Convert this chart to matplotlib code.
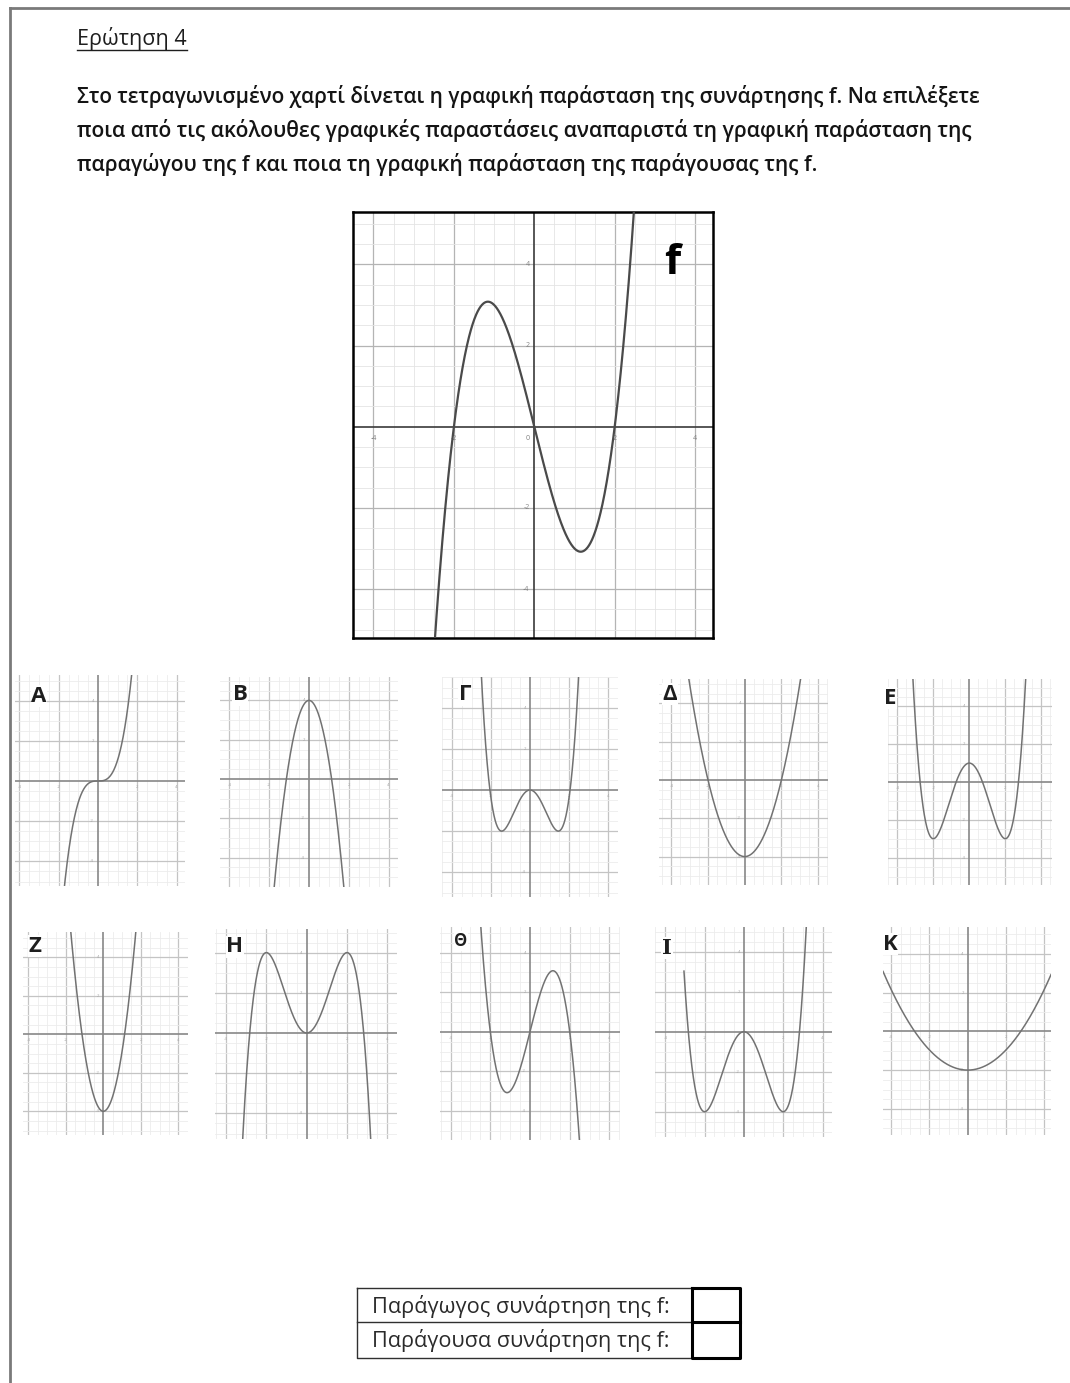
import numpy as np
import matplotlib.pyplot as plt

W, H = 1070, 1383
plt.rcParams['font.family'] = ['Open Sans', 'Noto Sans', 'DejaVu Sans']

# f(x) = x^3 - 4x, coefficients highest power first
F_COEFFS = [1, 0, -4, 0]

PANEL_LABELS = ['A', 'B', 'Γ', 'Δ', 'E', 'Z', 'H', 'Θ', 'I', 'K']
PANEL_COEFFS = [
    [1.05, 0, 0, 0],
    [-3.1, 0, 4],
    [0.45, 0, -1.9, 0, 0],
    [1, 0, -4],
    [0.25, 0, -2, 0, 1],
    [3.1, 0, -4],
    [-0.25, 0, 2, 0, 0],
    [-1, 0, 4, 0],
    [0.25, 0, -2, 0, 0],
    [0.26, 0, -2],
]
# where each curve starts on the left (None: whole window)
PANEL_XSTART = [None, None, None, None, None, None, None, None, -3.05, None]

TICK_VALUES = [-4, -2, 2, 4]

TITLE = 'Ερώτηση 4'
QUESTION_LINES = [
    'Στο τετραγωνισμένο χαρτί δίνεται η γραφική παράσταση της συνάρτησης f. Να επιλέξετε',
    'ποια από τις ακόλουθες γραφικές παραστάσεις αναπαριστά τη γραφική παράσταση της',
    'παραγώγου της f και ποια τη γραφική παράσταση της παράγουσας της f.',
]
TABLE_ROWS = ['Παράγωγος συνάρτηση της f:', 'Παράγουσα συνάρτηση της f:']

# --- layout in page pixels ---
# left, top, right, bottom, origin x, origin y, pixels per 2 units (x, y)
MAIN_BOX = (353, 212, 713, 638, 534.3, 426.7, 80.4, 81.2)
PANEL_BOXES = [
    (15, 675, 185, 886, 98.0, 781.0, 39.3, 40.2),
    (220, 677, 398, 887, 309.0, 779.0, 39.8, 39.3),
    (442, 677, 618, 897, 530.0, 790.0, 39.0, 41.0),
    (659, 679, 828, 885, 744.7, 780.0, 36.7, 38.3),
    (888, 679, 1052, 885, 969.3, 782.0, 36.0, 37.8),
    (23, 932, 188, 1135, 103.3, 1034.3, 37.5, 38.5),
    (215, 929, 397, 1139, 306.7, 1033.0, 40.3, 40.2),
    (440, 927, 620, 1140, 530.0, 1031.7, 39.7, 39.6),
    (655, 927, 832, 1137, 743.9, 1031.7, 39.3, 40.0),
    (883, 927, 1051, 1135, 967.7, 1031.3, 38.3, 38.8),
]
LABEL_POS = [(39, 696), (240, 695), (465, 695), (670, 694), (890, 698),
             (35, 946), (235, 947), (461, 941), (667, 948), (890, 944)]

fig = plt.figure(figsize=(W / 100, H / 100), dpi=100)
fig.patch.set_facecolor('white')


def grid_axes(box, main=False):
    x0, y0, x1, y1, ox, oy, mx, my = box
    ax = fig.add_axes([x0 / W, 1 - y1 / H, (x1 - x0) / W, (y1 - y0) / H])
    sx, sy = mx / 2, my / 2
    xl = ((x0 - ox) / sx, (x1 - ox) / sx)
    yl = ((oy - y1) / sy, (oy - y0) / sy)
    ax.set_xlim(*xl)
    ax.set_ylim(*yl)
    ax.set_xticks([])
    ax.set_yticks([])
    ax.set_facecolor('white')

    minor_c, major_c = ('#e4e4e4', '#b4b4b4') if main else ('#ececec', '#c4c4c4')
    for k in range(int(np.ceil(xl[0] * 2)), int(np.floor(xl[1] * 2)) + 1):
        if k == 0:
            continue
        major = k % 4 == 0
        ax.axvline(k / 2, color=major_c if major else minor_c,
                   lw=0.9 if major else 0.6, zorder=1)
    for k in range(int(np.ceil(yl[0] * 2)), int(np.floor(yl[1] * 2)) + 1):
        if k == 0:
            continue
        major = k % 4 == 0
        ax.axhline(k / 2, color=major_c if major else minor_c,
                   lw=0.9 if major else 0.6, zorder=1)
    axis_c = '#3a3a3a' if main else '#888888'
    ax.axhline(0, color=axis_c, lw=1.2, zorder=2)
    ax.axvline(0, color=axis_c, lw=1.2, zorder=2)

    # tiny scale numbers beside the axes
    fs, tc = (5, '#808080') if main else (3.2, '#a8a8a8')
    dx = 0.12 if main else 0.2
    for v in TICK_VALUES:
        if xl[0] < v < xl[1]:
            ax.text(v, -0.2, str(v), fontsize=fs, color=tc, ha='center', va='top', zorder=3)
        if yl[0] < v < yl[1]:
            ax.text(-dx, v, str(v), fontsize=fs, color=tc, ha='right', va='center', zorder=3)
    if main:
        ax.text(-dx, -0.2, '0', fontsize=fs, color=tc, ha='right', va='top', zorder=3)

    for s in ax.spines.values():
        if main:
            s.set_linewidth(1.8)
            s.set_color('black')
        else:
            s.set_visible(False)
    return ax


# main graph of f
ax_f = grid_axes(MAIN_BOX, main=True)
xs = np.linspace(*ax_f.get_xlim(), 1000)
ax_f.plot(xs, np.polyval(F_COEFFS, xs), color='#4a4a4a', lw=1.6, zorder=4)

# answer choices
for coeffs, x_start, box in zip(PANEL_COEFFS, PANEL_XSTART, PANEL_BOXES):
    ax = grid_axes(box)
    lo, hi = ax.get_xlim()
    if x_start is not None:
        lo = x_start
    xs = np.linspace(lo, hi, 800)
    ax.plot(xs, np.polyval(coeffs, xs), color='#727272', lw=1.1, zorder=4)

# page layer in pixel coordinates, on top of the graphs
page = fig.add_axes([0, 0, 1, 1], zorder=5)
page.set_xlim(0, W)
page.set_ylim(H, 0)
page.axis('off')
page.patch.set_alpha(0)

renderer = fig.canvas.get_renderer()


def fitted_text(x, y, s, width, size, **kw):
    t = page.text(x, y, s, fontsize=size, **kw)
    w = t.get_window_extent(renderer).width
    t.set_fontsize(size * width / w)
    return t


# page frame
page.plot([10, 10], [8, H], color='#7a7a7a', lw=2)
page.plot([10, W], [8, 8], color='#7a7a7a', lw=2)

fitted_text(77, 38, TITLE, 110, 14, ha='left', va='center', color='#1e1e1e')
page.plot([77, 187], [50, 50], color='#1e1e1e', lw=1)

line_y = [97, 130, 165]
line_w = [908, 898, 743]
for s, y, w in zip(QUESTION_LINES, line_y, line_w):
    fitted_text(77, y, s, w, 14, ha='left', va='center', color='#141414', weight='semibold')

page.text(672, 263, 'f', fontsize=30, weight='bold', ha='center', va='center', color='black')

for lab, (x, y) in zip(PANEL_LABELS, LABEL_POS):
    kw = dict(fontsize=16, weight='bold')
    if lab == 'Θ':
        kw = dict(fontsize=12, weight='bold')
    elif lab == 'I':
        kw = dict(fontsize=15, weight='bold', family='DejaVu Serif')
    page.text(x, y, lab, ha='center', va='center', color='#1e1e1e',
              bbox=dict(fc='white', ec='none', pad=0.5), **kw)

# answer table
tx0, tx1, tx2 = 356.7, 691.7, 740
ty0, ty1, ty2 = 1288.3, 1322.3, 1357.7
page.plot([tx0, tx1, tx1, tx0, tx0], [ty0, ty0, ty2, ty2, ty0], color='#303030', lw=1)
page.plot([tx0, tx1], [ty1, ty1], color='#303030', lw=1)
page.plot([tx1, tx2, tx2, tx1, tx1], [ty0, ty0, ty2, ty2, ty0], color='black', lw=2.2)
page.plot([tx1, tx2], [ty1, ty1], color='black', lw=2.2)
for s, y in zip(TABLE_ROWS, [(ty0 + ty1) / 2, (ty1 + ty2) / 2]):
    fitted_text(371.7, y + 1, s, 297, 12, ha='left', va='center', color='#2a2a2a')

fig.savefig('out.png', dpi=100)
